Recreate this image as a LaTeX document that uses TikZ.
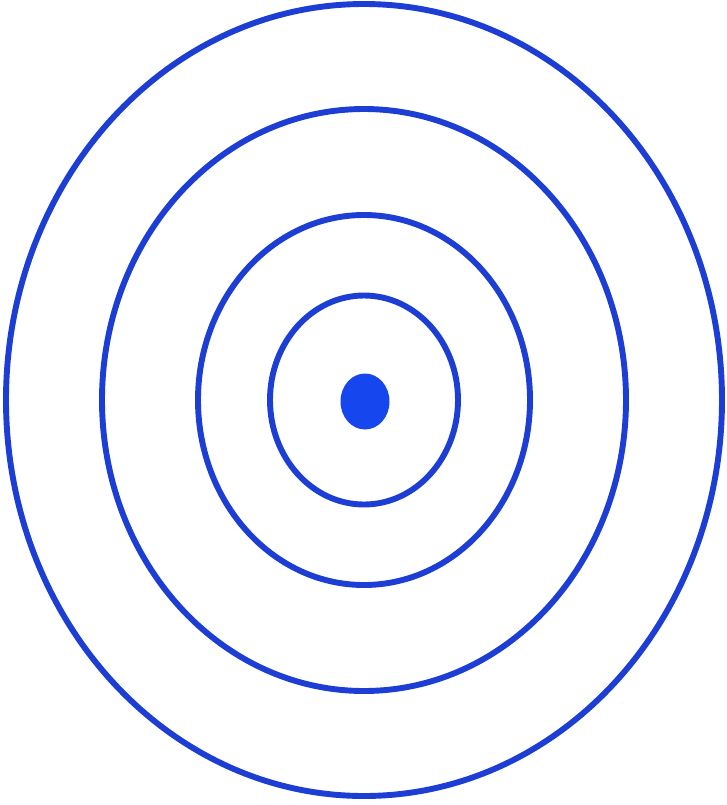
\documentclass[tikz,border=0pt]{standalone}
\usepackage{tikz}
\usepackage{xcolor}
\definecolor{ringblue}{RGB}{28,62,212}
\definecolor{dotblue}{RGB}{22,70,238}

\begin{document}
\begin{tikzpicture}[x=0.025cm, y=-0.025cm,
    ring/.style={draw=ringblue, line width=4.2pt},
    bullseye/.style={fill=dotblue}]
    \useasboundingbox (0,0) rectangle (727,805);
    \coordinate (c) at (364,400);
    % rings, inner to outer
    \foreach \rx/\ry in {94/104.5, 166/185, 262/291, 358/396}
      \draw[ring] (c) ellipse [x radius=\rx, y radius=\ry];
    \fill[bullseye] (365,401.5) ellipse [x radius=24.5, y radius=28];
  \end{tikzpicture}
\end{document}
